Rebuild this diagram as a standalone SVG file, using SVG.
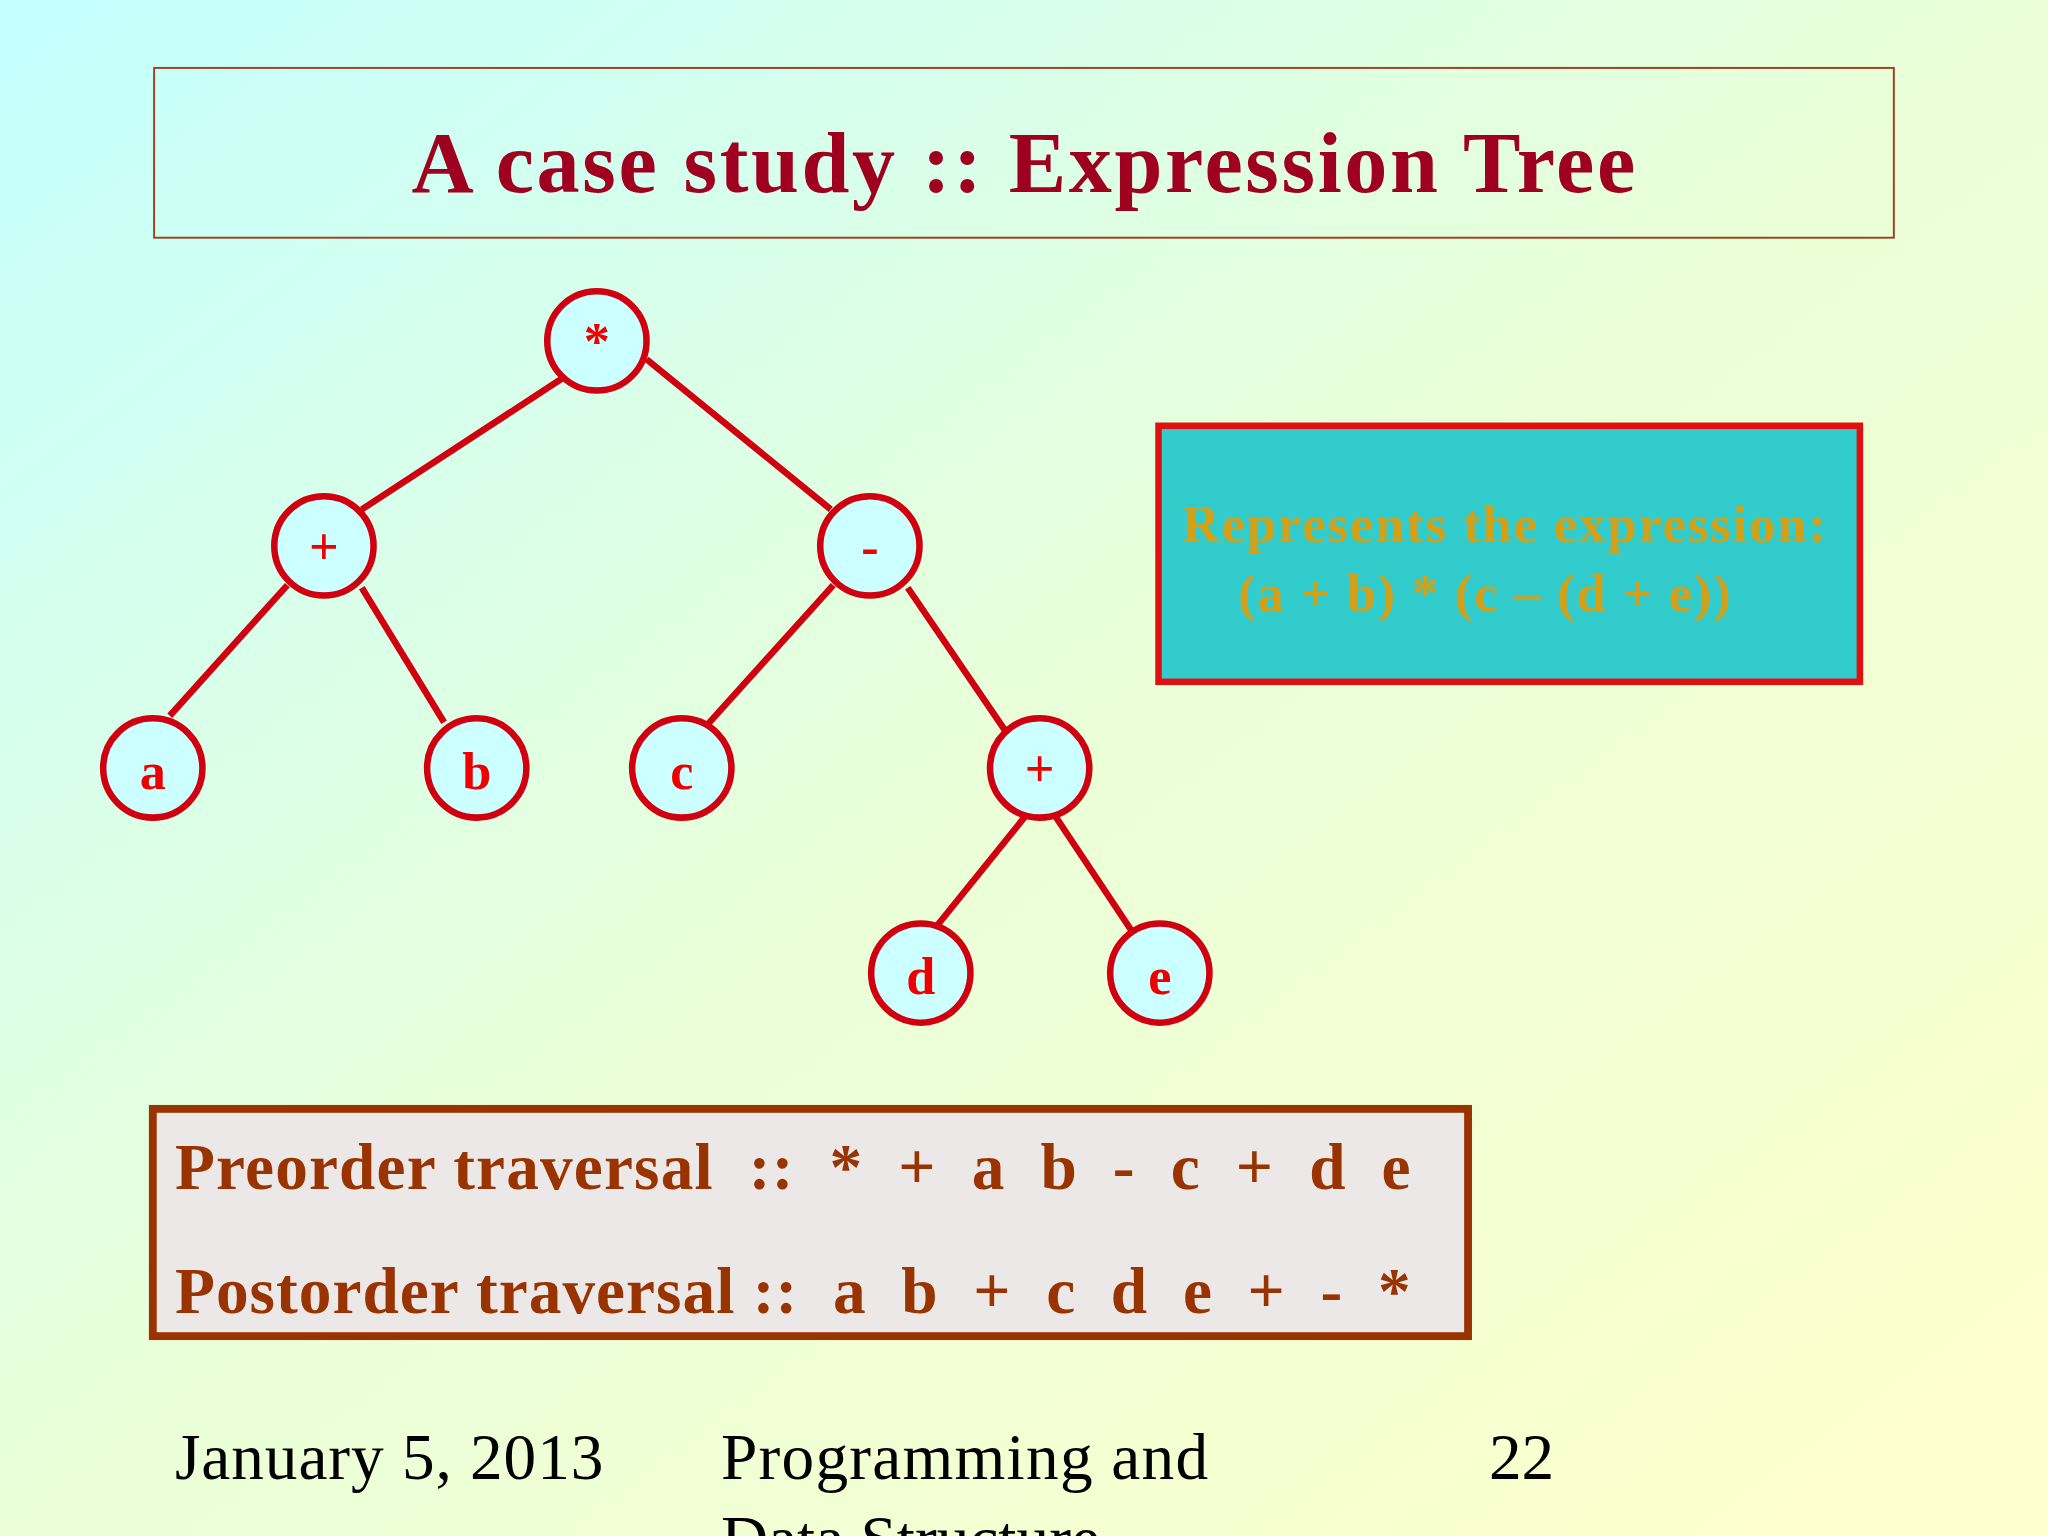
<svg xmlns="http://www.w3.org/2000/svg" width="2048" height="1536" viewBox="0 0 2048 1536">
<defs>
<linearGradient id="bg" x1="0" y1="0" x2="1" y2="1">
<stop offset="0" stop-color="#c4ffff"/><stop offset="0.5" stop-color="#eaffd8"/><stop offset="1" stop-color="#ffffcc"/>
</linearGradient>
<style>
.n circle{fill:#ccffff;stroke:#d00010;stroke-width:5}
.n text{font-family:"Liberation Serif",serif;font-weight:bold;font-size:40px;fill:#ee0000;text-anchor:middle}
.e line{stroke:#d00010;stroke-width:5}
.tr{font-family:"Liberation Serif",serif;font-weight:bold;font-size:50px;fill:#993300;white-space:pre}
.ft{font-family:"Liberation Serif",serif;font-size:50px;fill:#000}
</style>
</defs>
<rect width="2048" height="1536" fill="url(#bg)"/>
<g transform="scale(1.3061)">
<g id="title"><rect x="118" y="52" width="1332" height="130" fill="none" stroke="#a04020" stroke-width="1.5"/>
<text x="315" y="147" textLength="937" lengthAdjust="spacing" font-family="Liberation Serif,serif" font-weight="bold" font-size="66" fill="#a00020">A case study :: Expression Tree</text></g>
<g id="edges" class="e">
<line x1="430" y1="290" x2="277" y2="390"/><line x1="495" y1="275" x2="636" y2="390"/>
<line x1="220" y1="448" x2="130" y2="548"/><line x1="277" y1="450" x2="340" y2="553"/>
<line x1="638" y1="448" x2="537" y2="560"/><line x1="695" y1="450" x2="770" y2="560"/>
<line x1="785" y1="625" x2="718" y2="708"/><line x1="808" y1="625" x2="866" y2="712"/>
</g>
<g id="n-mul" class="n"><circle cx="457" cy="261" r="38"/><text x="457" y="275">*</text></g>
<g id="n-plus1" class="n"><circle cx="248" cy="418" r="38"/><text x="248" y="432" font-weight="normal">+</text></g>
<g id="n-minus" class="n"><circle cx="666" cy="418" r="38"/><text x="666" y="432">-</text></g>
<g id="n-a" class="n"><circle cx="117" cy="588" r="38"/><text x="117" y="604">a</text></g>
<g id="n-b" class="n"><circle cx="365" cy="588" r="38"/><text x="365" y="604">b</text></g>
<g id="n-c" class="n"><circle cx="522" cy="588" r="38"/><text x="522" y="604">c</text></g>
<g id="n-plus2" class="n"><circle cx="796" cy="588" r="38"/><text x="796" y="602" font-weight="normal">+</text></g>
<g id="n-d" class="n"><circle cx="705" cy="745" r="38"/><text x="705" y="761">d</text></g>
<g id="n-e" class="n"><circle cx="888" cy="745" r="38"/><text x="888" y="761">e</text></g>
<g id="expr"><rect x="887" y="326" width="537" height="196" fill="#33cccc" stroke="#e01010" stroke-width="5"/>
<text font-family="Liberation Serif,serif" font-weight="bold" font-size="40" fill="#d4a017"><tspan x="905" y="415" textLength="493" lengthAdjust="spacing">Represents the expression:</tspan></text>
<text font-family="Liberation Serif,serif" font-weight="bold" font-size="40" fill="#d4a017" x="948" y="468" textLength="377" lengthAdjust="spacing">(a + b) * (c – (d + e))</text></g>
<g id="trav"><rect x="117" y="849" width="1007" height="174" fill="#ece8e8" stroke="#993300" stroke-width="6"/>
<text class="tr" x="134" y="910" textLength="946" lengthAdjust="spacing">Preorder traversal  ::  *  +  a  b  -  c  +  d  e</text>
<text class="tr" x="134" y="1005" textLength="946" lengthAdjust="spacing">Postorder traversal ::  a  b  +  c  d  e  +  -  *</text></g>
<g id="footer"><text class="ft" x="134" y="1132" textLength="328" lengthAdjust="spacing">January 5, 2013</text>
<text class="ft" x="552" y="1132" textLength="373" lengthAdjust="spacing">Programming and</text><text class="ft" x="552" y="1195">Data Structure</text>
<text class="ft" x="1140" y="1132">22</text></g>
</g>
</svg>
